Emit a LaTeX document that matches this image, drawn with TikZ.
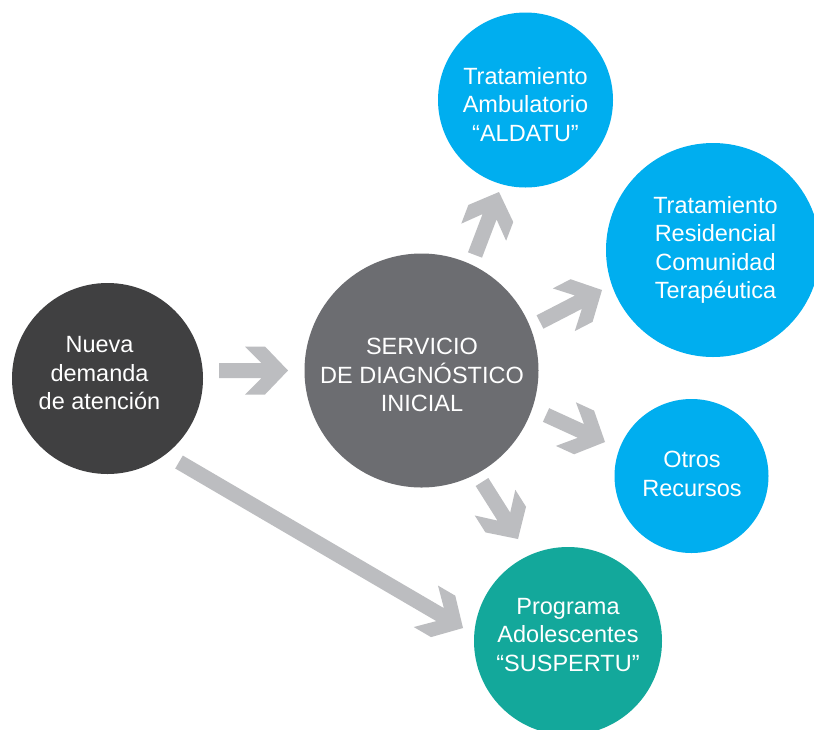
\documentclass[tikz,border=0pt]{standalone}
\usepackage{fontspec}
\setmainfont{Liberation Sans}
\usetikzlibrary{calc}
\definecolor{darkc}{RGB}{64,64,65}
\definecolor{grayc}{RGB}{108,109,113}
\definecolor{bluec}{RGB}{0,174,239}
\definecolor{tealc}{RGB}{19,168,155}
\definecolor{arrowc}{RGB}{188,189,192}
\tikzset{
  circ/.style={circle, inner sep=0pt, draw=none},
  lbl/.style={text=white, align=center, inner sep=0pt, font=\fontsize{23.5}{28.5}\selectfont},
  fatarrowfill/.style={fill=arrowc, draw=none}
}
\newcommand\fatarrow[2]{%
  \path let \p1=(#1), \p2=(#2) in
    \pgfextra{\pgfmathsetmacro\myang{atan2(\y2-\y1,\x2-\x1)}%
      \pgfmathsetmacro\mylen{veclen(\x2-\x1,\y2-\y1)}%
      \global\let\arrang\myang\global\let\arrlen\mylen};
  \fill[fatarrowfill, shift={(#2)}, rotate=\arrang]
    (0,0) -- (-23,24) -- (-43,24) -- (-26.5,7.5) -- (-\arrlen,7.5)
    -- (-\arrlen,-7.5) -- (-26.5,-7.5) -- (-43,-24) -- (-23,-24) -- cycle;
}
\begin{document}
\begin{tikzpicture}[x=1pt,y=-1pt]
\useasboundingbox (0,0) rectangle (814,729);
\clip (0,0) rectangle (814,729);
\fill[white] (0,0) rectangle (814,729);
% circles
\node[circ, fill=darkc, minimum size=191pt] (c1) at (107.5,378.5) {};
\node[circ, fill=grayc, minimum size=234pt] (c2) at (421.5,370.5) {};
\node[circ, fill=bluec, minimum size=175pt] (c3) at (525.5,100) {};
\node[circ, fill=bluec, minimum size=214pt] (c4) at (713,250) {};
\node[circ, fill=bluec, minimum size=154pt] (c5) at (691.5,476) {};
\node[circ, fill=tealc, minimum size=188pt] (c6) at (568,641) {};
% labels
\node[lbl] (t1) at (99.5,373.1) {Nueva\\demanda\\de atención};
\node[lbl] (t2) at (422,375.1) {SERVICIO\\DE DIAGNÓSTICO\\INICIAL};
\node[lbl] (t3) at (525.5,104.1) {Tratamiento\\Ambulatorio\\“ALDATU”};
\node[lbl] (t4) at (715.5,250) {Tratamiento\\Residencial\\Comunidad\\Terapéutica};
\node[lbl] (t5) at (692,474) {Otros\\Recursos};
\node[lbl] (t6) at (568,635) {Programa\\Adolescentes\\“SUSPERTU”};
% arrow end points
\coordinate (a1s) at (219,370.5); \coordinate (a1e) at (288,370.5);
\coordinate (a2s) at (475,255);   \coordinate (a2e) at (499,192);
\coordinate (a3s) at (540,322);   \coordinate (a3e) at (602,290);
\coordinate (a4s) at (546,415);   \coordinate (a4e) at (605,442);
\coordinate (a5s) at (482,482);   \coordinate (a5e) at (518,539);
\coordinate (a6s) at (179,462);   \coordinate (a6e) at (463,628);
\fatarrow{a1s}{a1e}
\fatarrow{a2s}{a2e}
\fatarrow{a3s}{a3e}
\fatarrow{a4s}{a4e}
\fatarrow{a5s}{a5e}
\fatarrow{a6s}{a6e}
\end{tikzpicture}
\end{document}
